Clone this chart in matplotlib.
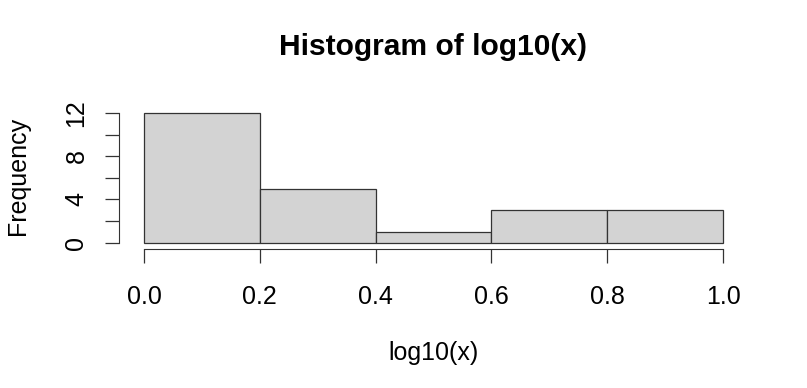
import matplotlib
matplotlib.use("Agg")
import matplotlib.pyplot as plt
import numpy as np

plt.rcParams['font.family'] = ['Liberation Sans', 'DejaVu Sans']

bin_edges = [0.0, 0.2, 0.4, 0.6, 0.8, 1.0]
counts = [12, 5, 1, 3, 3]
x_ticks = [0.0, 0.2, 0.4, 0.6, 0.8, 1.0]
x_tick_labels = ["0.0", "0.2", "0.4", "0.6", "0.8", "1.0"]
y_ticks_major = [0, 4, 8, 12]
y_ticks_minor = [2, 6, 10]

W, H = 807, 388
fig = plt.figure(figsize=(W / 100, H / 100), dpi=100)

# pixel geometry
x0_px, x1_px = 144, 723       # data 0 and 1
y0_px, y12_px = 242.7, 113    # data 0 and 12
left_px, right_px = 119, 746
bottom_px, top_px = 249, 107.5

ax = fig.add_axes([left_px / W, 1 - bottom_px / H,
                   (right_px - left_px) / W, (bottom_px - top_px) / H])
xu = (x1_px - x0_px)
yu = (y0_px - y12_px) / 12
ax.set_xlim(-(x0_px - left_px) / xu, 1 + (right_px - x1_px) / xu)
ax.set_ylim(-(bottom_px - y0_px) / yu, 12 + (y12_px - top_px) / yu)

widths = np.diff(bin_edges)
ax.bar(bin_edges[:-1], counts, width=widths, align='edge',
       color='#D3D3D3', edgecolor='#333333', linewidth=0.9)

for s in ['top', 'right']:
    ax.spines[s].set_visible(False)
ax.spines['left'].set_bounds(0, 12)
ax.spines['bottom'].set_bounds(0, 1)
ax.spines['left'].set_color('#333333')
ax.spines['bottom'].set_color('#333333')

ax.set_xticks(x_ticks)
ax.set_xticklabels(x_tick_labels)
ax.set_yticks(y_ticks_major)
ax.set_yticklabels([str(v) for v in y_ticks_major], rotation=90, va='center')
ax.set_yticks(y_ticks_minor, minor=True)
ax.tick_params(axis='both', which='both', length=10, width=0.9, color='#333333',
               labelsize=18)
ax.tick_params(axis='x', which='both', pad=16)
ax.tick_params(axis='y', which='both', pad=12)

fig.text(18 / W, 1 - 176 / H, "Frequency", rotation=90, ha='center', va='center', fontsize=18)
fig.text(433 / W, 1 - 353 / H, "log10(x)", ha='center', va='center', fontsize=18)
fig.text(433 / W, 1 - 47 / H, "Histogram of log10(x)", ha='center', va='center',
         fontsize=21.6, fontweight='bold')

fig.savefig("out.png", dpi=100)
